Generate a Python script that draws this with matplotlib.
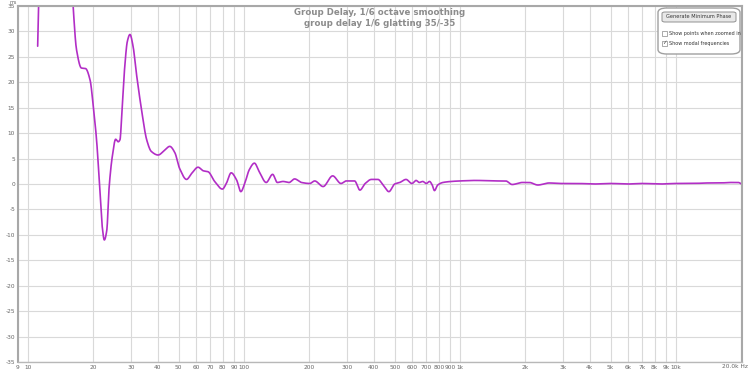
import matplotlib
matplotlib.use("Agg")
import matplotlib.pyplot as plt
from matplotlib.patches import FancyBboxPatch, Rectangle
import numpy as np

# Data (frequency in Hz, group delay in ms)
freq = [11.1, 11.3, 12.5, 14.0, 15.5, 16.2, 16.8, 17.7, 18.5, 19.4, 20.1, 20.8, 21.5,
        22.1, 22.6, 23.2, 23.8, 24.6, 25.5, 26.2, 26.7, 27.3, 28.1, 28.9, 29.7,
        30.7, 31.8, 33.6, 35.5, 37.3, 40.1, 43.1, 45.4, 47.9, 50.5, 54.3, 57.4,
        61.4, 64.9, 68.4, 73.3, 79.6, 83.0, 87.4, 92.6, 96.9, 101, 106, 112, 118,
        127, 136, 143, 152, 162, 172, 185, 202, 213, 233, 258, 282, 298, 326, 345,
        365, 390, 418, 442, 470, 500, 528, 564, 601, 628, 650, 674, 700, 725, 746,
        764, 791, 836, 913, 1000, 1195, 1420, 1633, 1750, 1950, 2100, 2300, 2600,
        2900, 3500, 4200, 5000, 6000, 7000, 8500, 10000, 12000, 14000, 16000,
        18000, 19500, 20200]
delay = [27.1, 40.0, 70.0, 70.0, 50.0, 35.0, 26.4, 22.8, 22.7, 20.5, 15.2, 8.7, -0.5,
         -8.4, -11.0, -9.1, -0.5, 5.4, 8.8, 8.3, 8.7, 14.6, 23.1, 28.1, 29.4,
         27.1, 21.8, 14.6, 8.7, 6.4, 5.7, 6.7, 7.4, 6.2, 3.0, 0.9, 2.1,
         3.3, 2.6, 2.4, 0.5, -1.0, 0.1, 2.2, 0.8, -1.5, 0.1, 2.8, 4.1, 2.4,
         0.3, 1.9, 0.3, 0.5, 0.3, 1.0, 0.3, 0.1, 0.6, -0.5, 1.6, 0.1, 0.6, 0.6, -1.2,
         0.1, 0.9, 0.9, -0.2, -1.5, 0.0, 0.3, 0.9, 0.1, 0.7, 0.3, 0.5, 0.1, 0.5, -0.2,
         -1.3, -0.2, 0.3, 0.5, 0.6, 0.7, 0.6, 0.6, -0.1, 0.3, 0.3, -0.2, 0.2,
         0.1, 0.1, 0.0, 0.1, 0.0, 0.1, 0.0, 0.1, 0.1, 0.2, 0.2,
         0.3, 0.3, 0.0]

xticks = [9, 10, 20, 30, 40, 50, 60, 70, 80, 90, 100, 200, 300, 400, 500, 600, 700,
          800, 900, 1000, 2000, 3000, 4000, 5000, 6000, 7000, 8000, 9000, 10000, 20000]
xlabels = ["9", "10", "20", "30", "40", "50", "60", "70", "80", "90", "100", "200",
           "300", "400", "500", "600", "700", "800", "900", "1k", "2k", "3k", "4k",
           "5k", "6k", "7k", "8k", "9k", "10k", "20.0k Hz"]
yticks = list(range(-35, 36, 5))

title1 = "Group Delay, 1/6 octave smoothing"
title2 = "group delay 1/6 glatting 35/-35"

fig = plt.figure(figsize=(7.5, 3.71), dpi=100)
ax = fig.add_axes([18/750, 1 - 362/371, (742 - 18)/750, (362 - 6)/371])

lf = np.log10(freq)
xs = np.linspace(lf[0], lf[-1], 3000)

def hermite(x, y, xn):
    x = np.asarray(x); y = np.asarray(y)
    n = len(x)
    m = np.zeros(n)
    for i in range(n):
        if i == 0:
            m[i] = (y[1] - y[0]) / (x[1] - x[0])
        elif i == n - 1:
            m[i] = (y[-1] - y[-2]) / (x[-1] - x[-2])
        else:
            d1 = (y[i] - y[i-1]) / (x[i] - x[i-1])
            d2 = (y[i+1] - y[i]) / (x[i+1] - x[i])
            if d1 * d2 <= 0:
                m[i] = 0.0
            else:
                m[i] = 2 / (1/d1 + 1/d2)
    idx = np.clip(np.searchsorted(x, xn) - 1, 0, n - 2)
    h = x[idx+1] - x[idx]
    t = (xn - x[idx]) / h
    h00 = 2*t**3 - 3*t**2 + 1
    h10 = t**3 - 2*t**2 + t
    h01 = -2*t**3 + 3*t**2
    h11 = t**3 - t**2
    return h00*y[idx] + h10*h*m[idx] + h01*y[idx+1] + h11*h*m[idx+1]

ys = hermite(lf, delay, xs)
ax.plot(10**xs, ys, color="#b22ec6", lw=1.2, solid_capstyle="round")

ax.set_xscale("log")
ax.set_xlim(9, 20300)
ax.set_ylim(-35, 35)
ax.set_xticks(xticks)
ax.set_xticklabels(xlabels[:-1] + [""])
ax.xaxis.set_minor_locator(matplotlib.ticker.NullLocator())
ax.set_yticks(yticks)
ax.set_yticklabels([str(v) for v in yticks])
ax.tick_params(axis="both", length=0, labelsize=4.2, colors="#666666", pad=2)
ax.grid(True, which="major", color="#d9d9d9", lw=0.8)
ax.set_axisbelow(True)
for s in ["left", "top", "right"]:
    ax.spines[s].set_color("#a8a8a8")
    ax.spines[s].set_linewidth(1.5)
ax.spines["bottom"].set_color("#b8b8b8")
ax.spines["bottom"].set_linewidth(1.0)

# last x label placed so it stays inside the figure
fig.text(748/750, 1 - 366.5/371, xlabels[-1], fontsize=4.2, color="#666666",
         ha="right", va="center")

fig.text(10/750, 1 - 3/371, "ms", fontsize=3.5, color="#666666", ha="left", va="center")

ax.text(0.5, 1 - 6.5/356, title1, transform=ax.transAxes, ha="center", va="center",
        fontsize=6.2, color="#8c8c8c", fontweight="bold")
ax.text(0.5, 1 - 17.5/356, title2, transform=ax.transAxes, ha="center", va="center",
        fontsize=6.2, color="#8c8c8c", fontweight="bold")

# control panel at top right
box = FancyBboxPatch((658/750, 1 - 54/371), 82/750, 46/371,
                     boxstyle="round,pad=0,rounding_size=0.012",
                     transform=fig.transFigure, facecolor="white",
                     edgecolor="#a0a0a0", lw=1.0, zorder=5)
fig.add_artist(box)
btn = FancyBboxPatch((662/750, 1 - 22/371), 74/750, 10/371,
                     boxstyle="round,pad=0,rounding_size=0.004",
                     transform=fig.transFigure, facecolor="#e8e8e8",
                     edgecolor="#909090", lw=0.7, zorder=6)
fig.add_artist(btn)
fig.text(699/750, 1 - 17/371, "Generate Minimum Phase", fontsize=3.6, color="#333333",
         ha="center", va="center", zorder=7)
for yy, lab, chk in [(33, "Show points when zoomed in", False),
                     (43, "Show modal frequencies", True)]:
    fig.add_artist(Rectangle((662/750, 1 - (yy + 3)/371), 5/750, 5/371,
                             transform=fig.transFigure, facecolor="white",
                             edgecolor="#888888", lw=0.5, zorder=6))
    if chk:
        fig.text(664.5/750, 1 - yy/371, "\u2713", fontsize=4, color="#444444",
                 ha="center", va="center", zorder=7)
    fig.text(669/750, 1 - yy/371, lab, fontsize=3.5, color="#333333",
             ha="left", va="center", zorder=7)

fig.savefig("out.png", dpi=100, facecolor="white")
